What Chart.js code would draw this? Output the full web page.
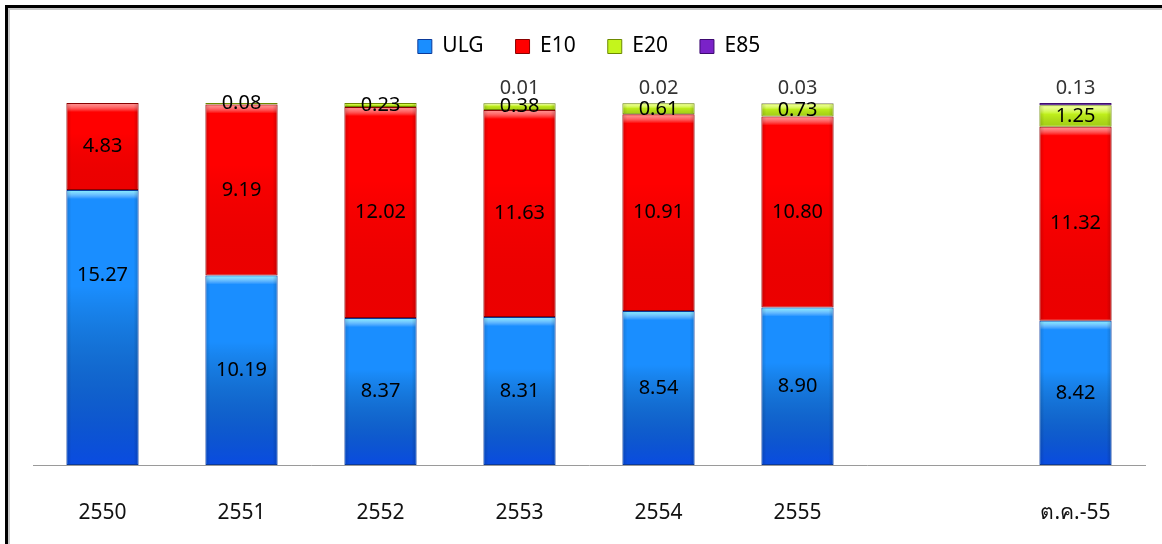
<!DOCTYPE html>
<html>
<head>
<meta charset="utf-8">
<script src="https://cdn.jsdelivr.net/npm/chart.js@4.4.0/dist/chart.umd.min.js"></script>
<style>
  body { margin: 0; background: #fff; }
  #wrap { position: relative; width: 1162px; height: 544px; }
  #frame {
    position: absolute; left: 5px; top: 5px; width: 1170px; height: 560px;
    border-top: 3px solid #000; border-left: 3px solid #000;
    box-shadow: inset 2px 2px 0 #c8c8c8; pointer-events: none;
  }
</style>
</head>
<body>
<div id="wrap">
  <canvas id="fuelChart" width="1162" height="544"></canvas>
  <div id="frame"></div>
</div>
<script>
const categories = ['2550', '2551', '2552', '2553', '2554', '2555', '', 'ต.ค.-55'];
const ulg = [15.27, 10.19, 8.37, 8.31, 8.54, 8.90, null, 8.42];
const e10 = [4.83, 9.19, 12.02, 11.63, 10.91, 10.80, null, 11.32];
const e20 = [0, 0.08, 0.23, 0.38, 0.61, 0.73, null, 1.25];
const e85 = [0, 0, 0, 0.01, 0.02, 0.03, null, 0.13];

const seriesNames = ['ULG', 'E10', 'E20', 'E85'];
const seriesValues = [ulg, e10, e20, e85];
const fills = ['#1a8eff', '#ff0000', '#c4f51c', '#7a22c8'];
const edges = ['#0b3a9a', '#8a0000', '#6d8a00', '#3e0a70'];
const tops = ['#7ef0ff', '#ff9090', '#f4ff9a', '#c59af0'];
const bottoms = ['rgba(0,40,210,0.65)', 'rgba(150,0,0,0.18)', 'rgba(60,90,0,0.25)', 'rgba(30,0,60,0.3)'];

// label of the first ULG bar sits higher in the original
const labelShift = { '0-0': -52 };

// bars are 100% stacked, labels show the raw values
const totals = categories.map((c, i) =>
    seriesValues.reduce((s, arr) => s + (arr[i] || 0), 0));
function toPct(arr) {
    return arr.map((v, i) => v === null ? null : v / totals[i] * 100);
}

const bevel = {
    id: 'bevel',
    afterDatasetsDraw(chart) {
        const ctx = chart.ctx;
        chart.data.datasets.forEach((ds, di) => {
            chart.getDatasetMeta(di).data.forEach((bar, i) => {
                if (!seriesValues[di][i]) return;
                const left = bar.x - bar.width / 2;
                const top = Math.min(bar.y, bar.base);
                const h = Math.abs(bar.base - bar.y);
                if (h < 1) return;
                ctx.save();
                // darker towards the bottom
                const g2 = ctx.createLinearGradient(0, top, 0, top + h);
                g2.addColorStop(0, 'rgba(0,0,0,0)');
                g2.addColorStop(0.35, 'rgba(0,0,0,0)');
                g2.addColorStop(1, bottoms[di]);
                ctx.fillStyle = g2;
                ctx.fillRect(left + 1, top + 1, bar.width - 2, h - 2);
                // top highlight strip
                const sh = Math.min(9, h * 0.45);
                const g1 = ctx.createLinearGradient(0, top, 0, top + sh);
                g1.addColorStop(0, tops[di]);
                g1.addColorStop(1, 'rgba(255,255,255,0)');
                ctx.fillStyle = g1;
                ctx.fillRect(left + 1, top + 1, bar.width - 2, sh);
                // side shading
                const g3 = ctx.createLinearGradient(left, 0, left + bar.width, 0);
                g3.addColorStop(0, 'rgba(0,0,0,0.15)');
                g3.addColorStop(0.07, 'rgba(0,0,0,0)');
                g3.addColorStop(0.93, 'rgba(0,0,0,0)');
                g3.addColorStop(1, 'rgba(0,0,0,0.18)');
                ctx.fillStyle = g3;
                ctx.fillRect(left + 1, top + 1, bar.width - 2, h - 2);
                ctx.restore();
            });
        });
    }
};

const valueLabels = {
    id: 'valueLabels',
    afterDraw(chart) {
        const ctx = chart.ctx;
        ctx.save();
        ctx.font = '20px "Noto Sans"';
        ctx.textAlign = 'center';
        ctx.textBaseline = 'middle';
        chart.data.datasets.forEach((ds, di) => {
            chart.getDatasetMeta(di).data.forEach((bar, i) => {
                const v = seriesValues[di][i];
                if (!v) return;
                const txt = v.toFixed(2);
                if (di === 3) {
                    ctx.fillStyle = '#333';
                    ctx.fillText(txt, bar.x, Math.min(bar.y, bar.base) - 15);
                } else {
                    ctx.fillStyle = '#000';
                    const dy = labelShift[di + '-' + i] || 0;
                    ctx.fillText(txt, bar.x, (bar.y + bar.base) / 2 + dy);
                }
            });
        });
        ctx.restore();
    }
};

const legendSpace = {
    id: 'legendSpace',
    beforeInit(chart) {
        const origFit = chart.legend.fit;
        chart.legend.fit = function () {
            origFit.bind(chart.legend)();
            this.height = 99;
        };
    }
};

const ctx = document.getElementById('fuelChart').getContext('2d');
const fuelChart = new Chart(ctx, {
    type: 'bar',
    data: {
        labels: categories,
        datasets: seriesNames.map((name, di) => ({
            label: name,
            data: toPct(seriesValues[di]),
            backgroundColor: fills[di],
            borderColor: edges[di],
            borderWidth: 1,
            borderSkipped: false,
            barPercentage: 0.52,
            categoryPercentage: 1
        }))
    },
    options: {
        responsive: false,
        animation: false,
        layout: { padding: { left: 33, right: 17, top: 4, bottom: 0 } },
        scales: {
            x: {
                stacked: true,
                grid: { display: false, drawTicks: false },
                border: { display: true, color: '#9a9a9a', width: 1 },
                ticks: { color: '#111', font: { family: 'Noto Sans', size: 21 }, padding: 35 },
                afterFit: (scale) => { scale.height = 79; }
            },
            y: {
                stacked: true,
                display: false,
                min: 0,
                max: 100
            }
        },
        plugins: {
            legend: {
                position: 'top',
                labels: {
                    color: '#111',
                    font: { family: 'Noto Sans', size: 21 },
                    boxWidth: 14,
                    boxHeight: 14,
                    padding: 32,
                    generateLabels: (chart) => seriesNames.map((name, di) => ({
                        text: name,
                        fillStyle: fills[di],
                        strokeStyle: edges[di],
                        lineWidth: 1,
                        datasetIndex: di
                    }))
                }
            },
            tooltip: { enabled: false }
        }
    },
    plugins: [bevel, valueLabels, legendSpace]
});
</script>
</body>
</html>
